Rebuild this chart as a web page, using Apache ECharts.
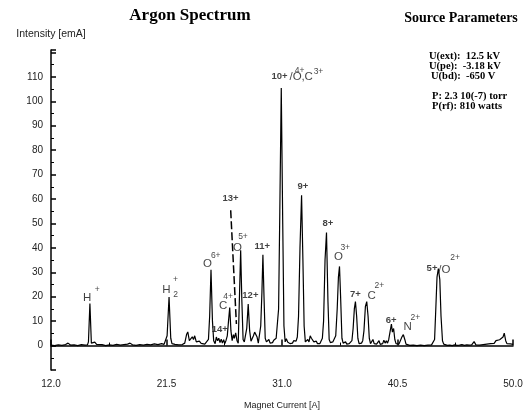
<!DOCTYPE html>
<html>
<head>
<meta charset="utf-8">
<script src="https://cdn.jsdelivr.net/npm/echarts@6/dist/echarts.min.js"></script>
<style>
  html, body { margin: 0; padding: 0; background: #fff; }
  #chart { width: 532px; height: 415px; }
</style>
</head>
<body>
<div id="chart"></div>
<script>
/* Argon spectrum: intensity vs magnet current */
var current = [
  12.0, 12.3, 12.6, 12.9, 13.2, 13.4, 13.6, 13.9, 14.2, 14.5, 14.8, 15.0,
  15.08, 15.2, 15.32, 15.45, 15.6, 15.75, 15.9, 16.2, 16.5, 16.8, 17.1, 17.4, 17.7, 18.0,
  18.3, 18.5, 18.7, 19.0, 19.3, 19.6, 19.9, 20.2, 20.5, 20.8, 21.1, 21.3, 21.45,
  21.55, 21.71, 21.85, 21.95, 22.2, 22.5, 22.8, 23.0,
  23.15, 23.25, 23.38, 23.5, 23.62, 23.72, 23.82, 23.95, 24.05, 24.2, 24.35, 24.5, 24.65, 24.8, 24.95,
  25.05, 25.16, 25.28, 25.38, 25.5, 25.6, 25.7, 25.8, 25.9, 26.0, 26.1, 26.2, 26.3, 26.4, 26.5,
  26.6, 26.7, 26.8, 26.9, 27.0, 27.08, 27.19, 27.3, 27.4,
  27.5, 27.6, 27.7, 27.8, 27.9, 28.0, 28.1, 28.22, 28.34, 28.45, 28.55, 28.65, 28.75, 28.85, 28.95,
  29.05, 29.15, 29.25, 29.35, 29.43, 29.52, 29.62, 29.72, 29.82, 29.92, 30.02, 30.12, 30.22, 30.32,
  30.42, 30.52, 30.62,
  30.72, 30.82, 30.94, 31.06, 31.16, 31.26, 31.36, 31.46, 31.56, 31.66, 31.76, 31.86, 31.96, 32.06,
  32.16, 32.26,
  32.36, 32.48, 32.61, 32.72, 32.82, 32.92, 33.02, 33.12, 33.22, 33.32, 33.42, 33.52, 33.62, 33.72,
  33.82, 33.92, 34.02, 34.12, 34.22, 34.32,
  34.42, 34.54, 34.66, 34.78, 34.88, 34.98, 35.08, 35.18, 35.3, 35.42, 35.54, 35.64, 35.73, 35.82,
  35.93, 36.03, 36.13, 36.23, 36.33, 36.43, 36.53, 36.63, 36.75,
  36.85, 36.95, 37.04, 37.14, 37.24, 37.34, 37.44, 37.54, 37.64, 37.74, 37.86, 37.97, 38.08, 38.18,
  38.28, 38.38, 38.48, 38.58, 38.68, 38.78, 38.88, 38.98, 39.08, 39.18, 39.28, 39.38, 39.48, 39.58,
  39.68, 39.78,
  39.9, 40.0, 40.08, 40.18, 40.28, 40.38, 40.5, 40.62, 40.75, 40.86, 40.98, 41.1, 41.2, 41.35, 41.5,
  41.65, 41.8, 41.95, 42.1, 42.25, 42.4, 42.55, 42.7, 42.85, 43.0, 43.15, 43.3, 43.45, 43.55,
  43.65, 43.75, 43.86, 43.98, 44.08, 44.2, 44.3, 44.45, 44.6, 44.8, 45.0, 45.2, 45.4, 45.6, 45.8,
  46.0, 46.2, 46.4, 46.6, 46.8, 46.95, 47.1, 47.25, 47.4, 47.55, 47.7, 47.85, 48.0, 48.15, 48.3,
  48.45, 48.6, 48.75, 48.9, 49.05, 49.18, 49.28, 49.4, 49.5, 49.65, 49.8, 50.0
];
var intensity = [
  0.2, 0.0, 0.3, 0.1, 0.4, 1.0, 0.2, 0.3, 0.0, 0.4, 0.2, 0.3,
  1.5, 17.2, 1.0, 0.6, 1.4, 0.5, 0.2, 0.4, 0.0, 0.3, 0.1, 0.5, 0.2, 0.4,
  0.6, 1.0, 0.3, 0.1, 0.4, 0.2, 0.5, 0.3, 0.7, 0.4, 0.8, 0.5, 1.2,
  4.0, 19.9, 3.0, 0.8, 0.5, 0.3, 0.4, 1.0,
  4.5, 5.6, 2.0, 1.2, 3.6, 2.5, 4.0, 1.5, 0.8, 1.8, 0.9, 1.4, 0.6, 1.2, 2.5,
  12, 31, 10, 2.0, 0.8, 3.5, 2.0, 3.0, 1.2, 2.6, 1.0, 2.4, 0.8, 2.2, 4.0,
  10, 15.6, 6, 2.0, 4.5, 3.0, 5.2, 2.0, 1.0,
  20, 39, 18, 2.5, 1.5, 1.2, 7, 17, 6, 1.8, 1.2, 4.0, 5.5, 6.0, 3.5,
  1.0, 1.5, 8, 22, 37.2, 20, 3, 1.5, 1.2, 2.5, 1.0, 1.8, 1.2, 2.2,
  2.0, 3.0, 3.5,
  15, 55, 105.4, 50, 8, 1.5, 2.8, 1.5, 1.2, 0.8, 1.5, 1.0, 2.0, 2.5,
  1.8, 3.5,
  12, 40, 61.5, 35, 8, 1.5, 1.0, 2.5, 1.5, 4.0, 3.0, 3.5, 1.5, 1.0,
  1.8, 0.8, 1.2, 0.8, 1.5, 3.0,
  10, 35, 46.3, 18, 2.5, 1.2, 0.8, 1.5, 2.0, 4.0, 15, 28, 32.4, 20,
  3.0, 1.0, 0.8, 1.5, 0.6, 1.2, 0.8, 1.0, 2.0,
  7, 15, 18, 12, 3, 0.8, 0.5, 1.0, 2.0, 6, 16, 18, 12, 3,
  0.8, 1.2, 2.5, 0.8, 1.5, 0.6, 1.0, 2.0, 0.5, 1.2, 0.8, 2.2, 1.0, 2.0,
  1.0, 2.5,
  6, 8.8, 5.5, 7.0, 2.5, 0.8, 0.4, 0.6, 1.0, 3.5, 4.5, 2.5, 0.6, 0.4, 0.1,
  0.5, 0.2, 0.4, 0.0, 0.6, 0.2, 0.3, 0.0, 0.5, 0.2, 0.4, 0.3, 0.8, 2.5,
  15, 28, 31.5, 27, 12, 2.0, 0.6, 0.3, 0.1, 0.2, 0.0, 0.3, 0.1, 0.2, 0.4,
  0.1, 0.3, 0.2, 0.3, 1.6, 0.3, 0.5, 0.2, 1.0, 0.4, 1.2, 0.6, 1.4, 0.8, 1.6,
  0.9, 2.0, 1.2, 2.4, 2.0, 3.5, 5.1, 2.0, 0.8, 0.5, 0.7, 0.5
];

/* dashed pointer from the 13+ label down to its small peak */
var pointerX = [26.78, 27.25];
var pointerY = [55.4, 8.8];

/* peak annotations: element names, charge superscripts, bold Ar charge states */
var ionX = [14.98, 21.50, 24.87, 26.15, 27.33, 32.12, 33.07, 35.65, 38.38, 41.34, 44.35];
var ionY = [19.6, 22.95, 33.4, 16.2, 40.1, 110.0, 110.0, 36.2, 20.3, 7.8, 31.0];
var ionText = ['H', 'H', 'O', 'C', 'O', '/O', ',C', 'O', 'C', 'N', '/O'];

var supX = [15.80, 22.24, 22.24, 25.55, 26.56, 27.79, 32.45, 34.0, 36.20, 39.01, 41.97, 45.23];
var supY = [22.8, 27.0, 20.7, 36.9, 19.9, 44.6, 112.6, 112.2, 40.1, 24.7, 11.5, 35.8];
var supText = ['+', '+', '2', '6+', '4+', '5+', '4+', '3+', '3+', '2+', '2+', '2+'];

var boldX = [25.88, 26.76, 28.40, 29.38, 30.80, 32.72, 34.77, 37.04, 39.97, 43.34];
var boldY = [6.7, 60.4, 20.4, 40.6, 110.0, 65.1, 50.0, 20.9, 10.5, 31.8];
var boldText = ['14+', '13+', '12+', '11+', '10+', '9+', '8+', '7+', '6+', '5+'];

var xTicks = [12.0, 50.0, 9.5];   // min, max, interval
var yTicks = [-10, 121, 10];

var paramLines = ['U(ext):  12.5 kV', 'U(pe):  -3.18 kV', 'U(bd):  -650 V', 'P: 2.3 10(-7) torr', 'P(rf): 810 watts'];

(function () {
  var ink = '#111';
  var sans = '"Liberation Sans", Arial, sans-serif';
  var serif = '"Liberation Serif", "Times New Roman", serif';

  function zip(xs, ys, ts) {
    return xs.map(function (x, i) { return ts ? { value: [x, ys[i]], name: ts[i] } : [x, ys[i]]; });
  }
  function textSeries(xs, ys, ts, font) {
    return {
      type: 'scatter', symbol: 'circle', symbolSize: 1, silent: true,
      itemStyle: { color: 'rgba(0,0,0,0)' },
      data: zip(xs, ys, ts),
      label: {
        show: true, position: 'inside', formatter: '{b}',
        color: ink, fontFamily: sans, fontSize: font.size, fontWeight: font.weight
      },
      z: 5
    };
  }

  var paramY = [56, 66, 76, 96, 106];
  var paramXs = [429, 429, 431, 432, 432];
  var graphics = [
    { type: 'text', x: 190, y: 16, style: { text: 'Argon Spectrum', font: 'bold 17px ' + serif, fill: '#000', align: 'center', verticalAlign: 'middle' } },
    { type: 'text', x: 461, y: 18, style: { text: 'Source Parameters', font: 'bold 14px ' + serif, fill: '#000', align: 'center', verticalAlign: 'middle' } }
  ];
  paramLines.forEach(function (t, i) {
    graphics.push({ type: 'text', x: paramXs[i], y: paramY[i], style: { text: t, font: 'bold 10.5px ' + serif, fill: '#000', align: 'left', verticalAlign: 'middle' } });
  });

  var chart = echarts.init(document.getElementById('chart'), null, { renderer: 'canvas' });
  chart.setOption({
    animation: false,
    backgroundColor: '#fff',
    grid: { left: 51, right: 19, top: 50, bottom: 42 },
    graphic: graphics,
    xAxis: {
      type: 'value', min: xTicks[0], max: xTicks[1], interval: xTicks[2],
      name: 'Magnet Current [A]', nameLocation: 'middle', nameGap: 31,
      nameTextStyle: { color: '#222', fontFamily: sans, fontSize: 9 },
      axisLine: { lineStyle: { color: '#000', width: 1.5 } },
      axisTick: { inside: true, length: 6, lineStyle: { color: '#000', width: 1.5 } },
      minorTick: { show: true, splitNumber: 2, length: 3, lineStyle: { color: '#000', width: 1 } },
      axisLabel: { color: '#222', fontFamily: sans, fontSize: 10, margin: 9,
        formatter: function (v) { return v.toFixed(1); } },
      splitLine: { show: false }
    },
    yAxis: {
      type: 'value', min: yTicks[0], max: yTicks[1], interval: yTicks[2],
      name: 'Intensity [emA]', nameLocation: 'end', nameGap: 10,
      nameTextStyle: { color: '#222', fontFamily: sans, fontSize: 10.5, align: 'center' },
      axisLine: { show: true, lineStyle: { color: '#000', width: 1.5 } },
      axisTick: { inside: true, length: 5, lineStyle: { color: '#000', width: 1.5 } },
      minorTick: { show: true, splitNumber: 2, length: 3, lineStyle: { color: '#000', width: 1 } },
      axisLabel: { color: '#222', fontFamily: sans, fontSize: 10, margin: 8,
        formatter: function (v) { return (v >= 0 && v <= 110) ? String(v) : ''; } },
      splitLine: { show: false }
    },
    series: [
      {
        type: 'line', data: zip(current, intensity), showSymbol: false, silent: true,
        lineStyle: { color: '#000', width: 1.2 }, z: 3
      },
      {
        type: 'line', data: zip(pointerX, pointerY), showSymbol: false, silent: true,
        lineStyle: { color: '#000', width: 1.5, type: [8, 3] }, z: 4
      },
      textSeries(ionX, ionY, ionText, { size: 11.5, weight: 'normal' }),
      textSeries(supX, supY, supText, { size: 8.5, weight: 'normal' }),
      textSeries(boldX, boldY, boldText, { size: 9.5, weight: 'bold' })
    ]
  });
})();
</script>
</body>
</html>
